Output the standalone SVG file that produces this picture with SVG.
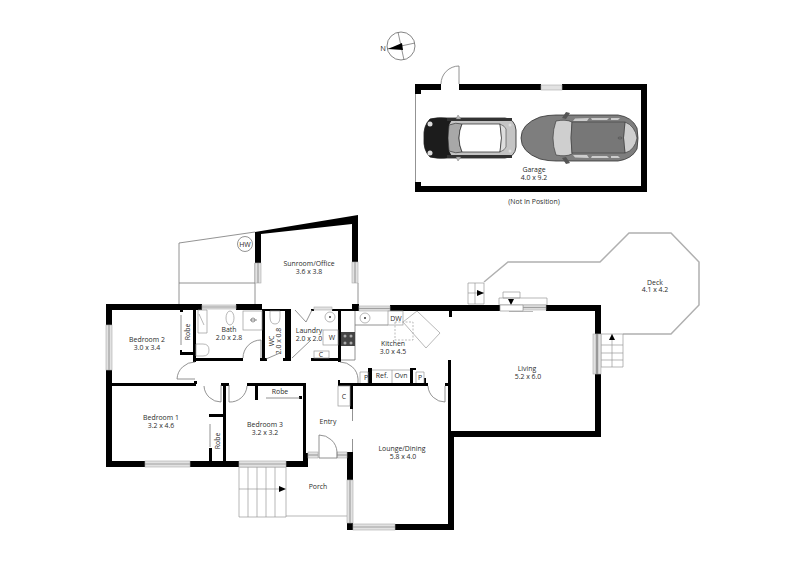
<svg xmlns="http://www.w3.org/2000/svg" width="800" height="566" viewBox="0 0 800 566">
<style>
text{font-family:"Open Sans","Noto Sans","Liberation Sans",sans-serif;font-size:6.9px;fill:#2a2a2a;text-anchor:middle}
.w{fill:#000}
.t{fill:none;stroke:#777;stroke-width:.8}
.g{fill:#e2e2e2;stroke:#aaa;stroke-width:.6}
.s{stroke:#a0a0a0;stroke-width:1.2;fill:none}
.f{fill:#fff;stroke:#999;stroke-width:.7}
.d{fill:none;stroke:#b0b0b0;stroke-width:1.5}
.a{fill:#000}
</style>
<rect width="800" height="566" fill="#fff"/>
<g id="compass">
<circle cx="401" cy="46" r="14" fill="#fff" stroke="#666" stroke-width=".8"/>
<path d="M398 32L404 60M387 49L415 43" class="t"/>
<path d="M388 49L402 43L403 50Z" class="a"/>
<text x="383" y="51" style="font-size:7.500px">N</text>
</g>
<g id="garage">
<path class="w" d="M415 84H441V90H421V94H415ZM459 84H541V90H459ZM562 84H647V192H415V182H421V186H641V90H562Z"/>
<path class="t" d="M415.500 94V182"/>
<rect class="g" x="541" y="85" width="21" height="5"/>
<path d="M459 84V66A18 18 0 0 0 441 84" class="t"/>
<g id="car-1">
<path d="M430 119Q438 117 447 118H505Q515 119 516 130V147Q515 157 505 158H447Q438 159 430 157Q423 150 424 138Q423 126 430 119Z" fill="#c4c4c4" stroke="#222" stroke-width=".8"/>
<path d="M430 119Q438 117 447 118H453L449 125V151L453 158H447Q438 159 430 157Q423 150 424 138Q423 126 430 119Z" fill="#1c1c1c"/>
<path d="M449 125Q456 122 462 124Q456 138 462 152Q456 154 449 151Q447 138 449 125Z" fill="#a8a8a8" stroke="#222" stroke-width=".6"/>
<path d="M462 124H500Q503 138 500 152H462Q456 138 462 124Z" fill="#fff" stroke="#222" stroke-width=".7"/>
<path d="M500 124Q505 126 506 129V147Q505 150 500 152Q503 138 500 124Z" fill="#ddd" stroke="#222" stroke-width=".5"/>
<path d="M447 118H512V121H447ZM447 155H512V158H447Z" fill="#333"/>
<path d="M458 115L461 119H456ZM458 161L461 157H456Z" fill="#bbb" stroke="#666" stroke-width=".4"/>
<circle cx="430" cy="124" r="2.500" fill="#ddd"/><circle cx="430" cy="153" r="2.500" fill="#ddd"/>
<circle cx="510" cy="125" r="1.500" fill="#ddd"/><circle cx="510" cy="151" r="1.500" fill="#ddd"/>
</g>
<g id="car-2">
<path d="M540 117Q548 115 556 115H618Q632 117 637 128Q639 138 637 149Q632 159 618 161H556Q548 161 540 159Q521 152 521 138Q521 124 540 117Z" fill="#7e7e7e" stroke="#333" stroke-width=".8"/>
<path d="M556 121Q566 119 572 122Q570 138 572 154Q566 157 556 155Q550 138 556 121Z" fill="#cfcfcf" stroke="#333" stroke-width=".6"/>
<path d="M625 122Q635 126 637 138Q635 150 625 153Q622 138 625 122Z" fill="#cfcfcf" stroke="#333" stroke-width=".6"/>
<path d="M572 122H625Q622 138 625 153H572Q570 138 572 122Z" fill="#777" stroke="#333" stroke-width=".5"/>
<path d="M575 118.500L589 118 587 121H573ZM591 118H609L607 120H592ZM611 118H620L618 120H611ZM575 157.500L589 158 587 155H573ZM591 158H609L607 156H592ZM611 158H620L618 156H611Z" fill="#ccc"/>
<path d="M566 112L570 113L566 119L562 118ZM566 164L570 163L566 157L562 158Z" fill="#555"/>
<ellipse cx="620" cy="138" rx="2" ry="1" fill="none" stroke="#333" stroke-width=".4"/>
</g>
<text x="534" y="172">Garage<tspan x="534" dy="8">4.0 x 9.2</tspan></text>
<text x="534" y="204">(Not In Position)</text>
</g>
<g id="surrounds">
<path class="t" d="M255 232L179 243V304M179 283H255M255 263V304M358 283V304"/>
<circle cx="245" cy="244" r="7.500" fill="#fff" stroke="#777" stroke-width=".8"/>
<text x="245" y="246.500">HW</text>
<path class="d" d="M484 282L508 262H600L629 233H671L699 262V305L671 334H623"/>
</g>
<g id="stairs">
<path class="f" d="M468 283H484V304H468ZM475 283V304M468 293H484"/>
<path class="a" d="M477 290L484 293L477 296Z"/>
<path class="f" d="M499 298H547V305H499ZM503 292H520V298H503Z"/>
<path class="a" d="M508 299H514L511 305Z"/>
<path class="f" d="M601 334H623V367H601ZM612 334V367M601 345H623M601 353H623M601 360H623"/>
<path class="a" d="M609 340L612 334L615 340Z"/>
<path class="f" d="M239 467H286V517H239ZM248 467V517M257 467V517M266 467V517M275 467V517M239 489H280M286 516H347"/>
<path class="a" d="M279 486L286 489L279 492Z"/>
</g>
<g id="walls">
<path class="w" d="M106 304H202V310H112V325H106ZM106 370H112V461H145V467H106ZM190 461H239V467H190ZM286 461H303V386H247V383H306V453H308V467H286ZM236 304H262V310H236ZM255 232L358 215V262H352V224L261 234V263H255ZM352 304H359V311H352ZM390 305H500V311H390ZM546 305H601V334H595V311H546ZM595 374H601V437H454V530H395V524H448V431H595ZM347 452H353V480H347ZM347 523H353V530H347Z"/>
<rect class="w" x="112" y="383" width="84" height="3"/>
<rect class="w" x="194" y="381" width="3" height="3"/>
<rect class="w" x="221" y="383" width="8" height="3"/>
<rect class="w" x="223" y="384" width="3" height="78"/>
<rect class="w" x="255" y="386" width="3" height="14"/>
<rect class="w" x="299" y="396" width="3" height="3"/>
<rect class="w" x="209" y="414" width="15" height="3"/>
<rect class="w" x="209" y="448" width="3" height="14"/>
<rect class="w" x="193" y="309" width="3" height="53"/>
<rect class="w" x="180" y="309" width="3" height="3"/>
<rect class="w" x="180" y="352" width="13" height="3"/>
<rect class="w" x="180" y="350" width="2" height="4"/>
<rect class="w" x="195" y="358" width="48" height="3"/>
<rect class="w" x="260" y="358" width="7" height="3"/>
<rect class="w" x="262" y="309" width="3" height="50"/>
<rect class="w" x="265" y="309" width="15" height="2"/>
<rect class="w" x="283" y="358" width="8" height="3"/>
<rect class="w" x="285" y="309" width="6" height="52"/>
<rect class="w" x="280" y="309" width="11" height="2"/>
<rect class="w" x="311" y="358" width="29" height="3"/>
<rect class="w" x="338" y="309" width="3" height="53"/>
<rect class="w" x="311" y="309" width="3" height="2"/>
<rect class="w" x="332" y="309" width="20" height="2"/>
<rect class="w" x="338" y="383" width="90" height="3"/>
<rect class="w" x="338" y="380" width="2" height="4"/>
<rect class="w" x="350" y="385" width="3" height="24"/>
<rect class="w" x="368" y="368" width="4" height="15"/>
<rect class="w" x="410" y="368" width="6" height="2"/>
<rect class="w" x="410" y="368" width="3" height="15"/>
<rect class="w" x="424" y="378" width="2" height="6"/>
<rect class="w" x="449" y="311" width="3" height="6"/>
<rect class="w" x="448" y="360" width="3" height="72"/>
<rect class="w" x="445" y="383" width="4" height="3"/>
</g>
<g id="windows">
<rect class="g" x="106" y="325" width="6" height="45"/><path class="s" d="M109 325V370"/>
<rect class="g" x="202" y="305" width="34" height="4"/><path class="s" d="M202 307H236"/>
<rect class="g" x="255" y="263" width="6" height="20"/><path class="s" d="M258 263V283"/>
<rect class="g" x="352" y="262" width="6" height="21"/><path class="s" d="M355 262V283"/>
<rect class="g" x="314" y="307" width="18" height="3"/>
<rect class="g" x="359" y="306" width="31" height="5"/><path class="s" d="M359 308.500H390"/>
<rect class="g" x="145" y="461" width="45" height="6"/><path class="s" d="M145 464H190"/>
<rect class="g" x="239" y="461" width="47" height="6"/><path class="s" d="M239 464H286"/>
<rect class="g" x="308" y="452" width="10" height="6"/><path class="s" d="M308 455H318"/>
<rect class="g" x="337" y="452" width="10" height="6"/><path class="s" d="M337 455H347"/>
<rect class="g" x="347" y="480" width="6" height="43"/><path class="s" d="M350 480V523"/>
<rect class="g" x="353" y="524" width="42" height="6"/><path class="s" d="M353 527H395"/>
<rect class="g" x="523" y="305" width="23" height="5"/><path class="s" d="M523 307.500H546"/>
<rect class="g" x="593" y="334" width="8" height="40"/><path d="M597 334V374" stroke="#999" stroke-width="2.500"/>
<path class="f" d="M500 305H523V311H500ZM509 311.500H533"/>
</g>
<g id="doors">
<path class="t" d="M195 379H177A18 18 0 0 1 195 362"/>
<path class="t" d="M221 385V402A17 17 0 0 1 204 386"/>
<path class="t" d="M229 385V402A17 17 0 0 0 247 386"/>
<path class="t" d="M261 358V340A18 18 0 0 0 243 358"/>
<path class="t" d="M266 359L280 353"/>
<path class="t" d="M295 310L306 322L312 310"/>
<path class="t" d="M292 358L311 340"/>
<path class="t" d="M340 362A18 18 0 0 1 358 379V383"/>
<path class="t" d="M445 386V402A17 17 0 0 1 428 386"/>
<path class="t" d="M319 458V435A18 18 0 0 1 337 452V458H319"/>
<path class="t" d="M352.500 409V421M352.500 439V452"/>
<path class="t" d="M181 315V345M210 424V447M266 398H300"/>
<path class="t" d="M355 311V325H388M355 325V360H341"/>
</g>
<g id="fixtures">
<path class="f" d="M198 310H207V333H198ZM199 314L204 325"/>
<ellipse class="f" cx="230" cy="318" rx="4" ry="7"/>
<rect class="f" x="243" y="311" width="19" height="19" stroke-width="1.200"/>
<path class="t" d="M250 320H257"/><circle class="t" cx="253" cy="320" r="2"/>
<path class="f" d="M196 344H203Q209 344 209 350Q209 356 203 356H196Z"/>
<path class="f" d="M270 311H280V317Q280 324 275 324Q270 324 270 317Z"/>
<circle class="f" cx="330" cy="317" r="5"/><circle cx="330" cy="317" r="1" fill="#333"/>
<rect class="f" x="323" y="330" width="15" height="15"/>
<rect class="f" x="314" y="351" width="15" height="7"/>
<circle class="f" cx="365" cy="318" r="5"/><circle cx="365" cy="318" r="1" fill="#333"/>
<rect class="f" x="388" y="311" width="15" height="14"/>
<path class="f" d="M403 322L417 311L440 333L426 348Z" fill="none"/>
<rect x="395" y="322" width="18" height="18" fill="none" stroke="#aaa" stroke-width=".8" stroke-dasharray="2 1.500"/>
<rect x="341" y="332" width="14" height="14" fill="#444"/>
<g fill="#aaa"><circle cx="345" cy="336" r="1.500"/><circle cx="351" cy="336" r="1.500"/><circle cx="345" cy="343" r="1.500"/><circle cx="351" cy="343" r="1.500"/></g>
<path class="f" d="M360 383V372H368V383M372 370H410M392 370V383"/>
<path class="f" d="M416 383V372H424V383"/>
<rect class="f" x="338" y="386" width="12" height="20"/>
</g>
<g id="labels">
<text x="147" y="342">Bedroom 2<tspan x="147" dy="8">3.0 x 3.4</tspan></text>
<text x="229" y="332">Bath<tspan x="229" dy="8">2.0 x 2.8</tspan></text>
<text transform="translate(190 332) rotate(-90)">Robe</text>
<text transform="translate(274 341) rotate(-90)">WC<tspan x="0" dy="7">2.0 x 0.8</tspan></text>
<text x="309" y="333">Laundry<tspan x="309" dy="8">2.0 x 2.0</tspan></text>
<text x="332" y="340">W</text><text x="321" y="357">C</text>
<text x="309" y="266">Sunroom/Office<tspan x="309" dy="8">3.6 x 3.8</tspan></text>
<text x="396" y="320.500">DW</text>
<text x="393" y="346">Kitchen<tspan x="393" dy="8">3.0 x 4.5</tspan></text>
<text x="366" y="380">P</text><text x="382" y="378">Ref.</text><text x="401" y="378">Ovn</text><text x="420" y="380">P</text>
<text x="344" y="399">C</text>
<text x="328" y="424">Entry</text>
<text x="161" y="420">Bedroom 1<tspan x="161" dy="8">3.2 x 4.6</tspan></text>
<text x="265" y="427">Bedroom 3<tspan x="265" dy="8">3.2 x 3.2</tspan></text>
<text x="280" y="394">Robe</text>
<text transform="translate(220 441) rotate(-90)">Robe</text>
<text x="318" y="489">Porch</text>
<text x="402" y="451">Lounge/Dining<tspan x="403" dy="7.500">5.8 x 4.0</tspan></text>
<text x="527" y="371">Living<tspan x="528" dy="7.500">5.2 x 6.0</tspan></text>
<text x="655" y="284.500">Deck<tspan x="655" dy="7.500">4.1 x 4.2</tspan></text>
</g>
</svg>
